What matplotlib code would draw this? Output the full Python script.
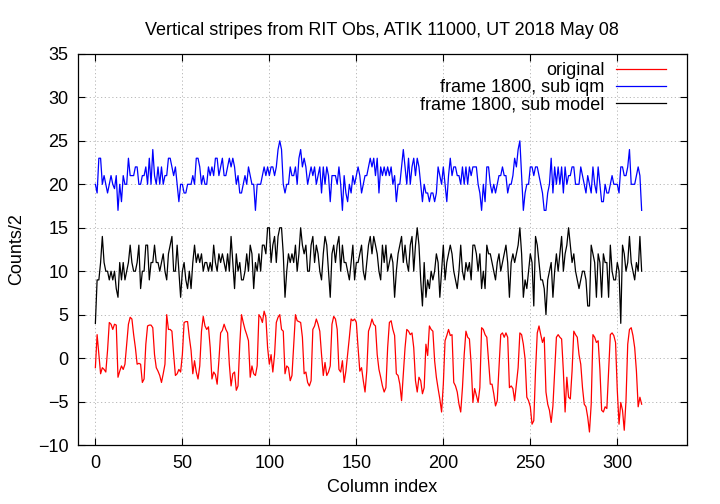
import numpy as np
import matplotlib
matplotlib.use("Agg")
import matplotlib.pyplot as plt

plt.rcParams["font.family"] = ["Liberation Sans", "DejaVu Sans"]
plt.rcParams["font.size"] = 13

title = "Vertical stripes from RIT Obs, ATIK 11000, UT 2018 May 08"
labels = ["original", "frame 1800, sub iqm", "frame 1800, sub model"]

# counts/2 per column
original = [
    -1.1, 2.7, 0.5, -1.8, -1.1, -1.3, -1.6, 0.9, 4.1, 3.9, 3.3, 3.9, 3.8, -2.2, -1.5, -0.9, -1.3, -0.7, 1.6, 3.9,
    4.7, 4.5, 2.7, 1.2, -0.7, -0.6, -0.7, -2.8, -2.4, 1.6, 3.7, 3.8, 3.8, 3.5, 0.4, -1.1, -1.5, -2, -2.8, -1.8,
    -0.7, 5, 3.3, 3.3, 3.1, 0.4, -2, -1.8, -1.3, -1.6, 0.4, 4.1, 4.2, 4.2, 2.4, 0.9, -1.8, -0.3, -1.6, -2.4,
    -0.9, 3.1,
    4.8, 3.7, 3.3, 3.6, 1.2, -2.4, -1.6, -1.9, -3, -0.3, 2.9, 3.2, 3.9, 3.3, 2.9, -0.7, -3.2, -1.8, -1.6, -3.7,
    -3.2, 1.6, 5, 4.1, 3.3, 2.7, 2, -2.2, -0.9, -1.8, -2, -0.9, 5, 4.7, 4.1, 5.4, 4.7, 1.2, -0.7, 0.4,
    -1.6, 0.4, 4.1, 4.7, 5, 3.3, 3.1, -1.8, -0.9, -1.1, -2.6, -2, 1.6, 5, 4.3, 4.2, 4.1, 2.4, -1.8, -1.6,
    -2.8, -3.2, -2.6,
    3.3, 3.7, 4.5, 3.9, 3.1, 0.4, -2, -0.5, -2, -1.6, -0.9, 3.9, 4.8, 4.5, 3.3, -1.3, -1.6, -0.3, -2.8, -1.5,
    0.4, 2.4, 4.5, 4.3, 4.5, 4.1, 1.2, -1.5, -1.1, -2.6, -3.9, -1.5, 3.1, 3.7, 4.5, 3.9, 3.7, 0.4, -1.3, -2.2,
    -3.2, -3.9, -3.4, 1.2, 4.1, 4.3, 3.3, 2.6, -1.8, -2, -3, -4.9, -1.8, 1.2, 3.3, 3.1, 2.7, 2.9, 1.2, -2.6,
    -3.9, -2.2, -2.6, -4.1,
    -3.4, 1.6, 0.3, 3.7, 3.3, 3.1, -0.3, -2.2, -3.5, -4.7, -6.2, -3, 2, 2.6, 3.3, 2.6, 2.7, -2.8, -3.2, -3.9,
    -5.3, -6.2, -3.4, 0.4, 3.1, 2.4, 2.2, -0.7, -5.1, -3.5, -4.3, -5.1, -3.4, 3.5, 3.3, 2.7, 2.4, -0.3, -3, -3,
    -4.1, -5.5, -4.9, -1.1, 2.7, 2.9, 2.4, 2.9, 2.4, -3.4, -3.2, -3.5, -4.9, -3, -1.1, 2.9, 2.7, 1.6, -0.1, -4.5,
    -4.9, -5.6, -7.6,
    -7.2, -1.5, 2.9, 3.7, 2.7, 1.8, 2.4, -3.9, -5.3, -6, -7.4, -5.5, -1.5, 2.4, 2.7, 2.4, 2.2, -1.5, -6.2, -2.2,
    -4.5, -4.7, -1.5, 3.1, 2.7, 2.4, 0.4, -0.7, -3.4, -5.3, -5.6, -6.8, -8.5, -5.3, 2.7, 2.4, 1.8, 2, -1.3, -6,
    -6.2, -5.6, -5.8, -1.5, 2.7, 2.9, 2.6, 1.8, -3.7, -7.6, -5.1, -6, -8.3, -4.9, 1.6, 3.3, 3.5, 2.6, 1.2, -1.5,
    -5.6, -4.5, -5.3,
]

sub_iqm = [
    20, 19, 23, 23, 20, 21, 20, 19, 20, 21, 20, 19.5, 21, 17, 20, 18, 21, 20, 20, 23,
    21, 21, 21, 22, 22, 20, 20, 21, 21, 22, 20, 23, 20, 24, 21, 20, 22, 20, 22, 20,
    21, 21, 23, 23, 22, 21, 22, 20, 18, 20, 20, 19, 19, 20, 20, 20, 21, 20, 23, 23,
    22, 20,
    21, 20, 20, 22, 21, 22, 21, 23, 23, 21, 22, 23, 21, 21, 22, 23, 22, 23, 22, 20,
    21, 19, 19, 20, 21, 20, 22, 21, 20, 20, 17, 20, 20, 20, 21, 22, 21, 22, 21, 22,
    22, 21, 22, 24, 25, 24, 20, 19, 20, 20, 22, 21, 21, 22, 20, 23, 24, 22, 23, 22,
    20, 21, 22,
    21, 22, 20, 21, 22, 19, 22, 20, 22, 21, 18, 21, 21, 21, 20, 22, 20, 17, 21, 19,
    18, 20, 19, 21, 20, 21, 22, 21, 19, 20, 21, 21, 22, 23, 22, 23, 21, 23, 19, 22,
    21, 22, 21, 22, 21, 22, 20, 21, 18, 20, 20, 22, 24, 22, 20, 23, 20, 22, 23, 21,
    23, 22, 20, 18,
    20, 19, 19, 18, 19, 19, 18, 19, 22, 21, 20, 22, 20, 18, 21, 23, 21, 22, 22, 21,
    21, 20, 22, 20, 22, 20, 22, 21, 22, 22, 22, 20, 19, 17, 20, 18, 22, 22, 20, 19,
    20, 19, 20, 21, 21, 22, 21, 21, 19, 20, 20, 21, 23, 22, 24, 25, 21, 17, 19, 20,
    20, 22, 22,
    21, 22, 22, 21, 20, 19, 17, 17, 19, 20, 23, 19, 22, 20, 22, 20, 22, 19, 22, 20,
    21, 21, 22, 22, 20, 20, 20, 22, 21, 20, 19, 21, 20, 19, 22, 20, 19, 22, 20, 18,
    18, 20, 19, 19, 20, 21, 20, 20, 20, 19, 22, 22, 21, 21, 22, 24, 20, 20, 20, 21,
    22, 21, 17,
]

sub_model = [
    4, 9, 9, 11, 14, 11, 10, 10, 9, 10, 9, 10, 8, 7, 11, 9, 11, 9, 10, 11,
    13, 11, 10, 10, 11, 13, 8, 10, 10, 13, 13, 9, 11, 11, 13, 11, 11, 10, 11, 12,
    10, 9, 12, 13, 14, 10, 10, 13, 10, 7, 10, 11, 9, 8, 10, 8, 11, 13, 11, 12,
    11, 12,
    10, 11, 11, 10, 11, 10, 13, 11, 10, 12, 11, 12, 11, 10, 12, 10, 14, 11, 8, 12,
    10, 11, 9, 9, 10, 12, 10, 13, 12, 8, 11, 10, 12, 10, 13, 13, 12, 15, 15, 11,
    13, 14, 11, 14, 15, 15, 12, 7, 10, 12, 11, 12, 11, 13, 10, 12, 15, 13, 12, 13,
    10, 10, 13,
    14, 11, 13, 12, 10, 9, 12, 14, 13, 10, 7, 12, 13, 11, 13, 14, 10, 13, 11, 11,
    10, 9, 11, 13, 9, 11, 11, 12, 13, 10, 9, 11, 13, 14, 12, 14, 13, 12, 10, 9,
    13, 11, 13, 10, 11, 12, 11, 7, 10, 12, 13, 14, 11, 13, 11, 10, 13, 14, 10, 13,
    15, 13, 9, 6,
    11, 7, 9, 8, 10, 9, 10, 12, 11, 7, 10, 13, 9, 11, 12, 13, 12, 10, 9, 8,
    10, 13, 10, 9, 11, 10, 11, 9, 13, 13, 12, 10, 12, 8, 10, 8, 13, 12, 12, 11,
    10, 9, 11, 12, 10, 11, 12, 13, 11, 7, 11, 12, 11, 12, 13, 15, 12, 7, 9, 8,
    10, 12, 11,
    6, 14, 13, 11, 9, 9, 8, 5, 9, 10, 11, 7, 10, 12, 10, 12, 14, 10, 12, 13,
    15, 13, 11, 12, 10, 9, 8, 9, 10, 10, 9, 6, 6, 13, 12, 11, 7, 12, 11, 7,
    12, 11, 11, 7, 13, 10, 9, 9, 11, 10, 4, 13, 12, 10, 11, 14, 11, 10, 9, 11,
    10, 14, 10,
]

fig = plt.figure(figsize=(7.2, 5.04), dpi=100)
ax = fig.add_axes([0.1083, 0.117, 0.8457, 0.776])

ax.plot(np.arange(len(original)), original, color="#ff0000", lw=0.9, label=labels[0])
ax.plot(np.arange(len(sub_iqm)), sub_iqm, color="#0000ff", lw=0.9, label=labels[1])
ax.plot(np.arange(len(sub_model)), sub_model, color="black", lw=0.9, label=labels[2])

ax.set_xlim(-10, 340)
ax.set_ylim(-10, 35)
ax.set_xticks(np.arange(0, 301, 50))
ax.set_yticks(np.arange(-10, 36, 5))
ax.grid(True, color="#b0b0b0", lw=0.6, ls=(0, (1.5, 3)))
ax.tick_params(direction="in", length=5, width=0.8, top=True, right=True, pad=7)
for s in ax.spines.values():
    s.set_linewidth(0.9)

ax.set_xlabel("Column index", labelpad=5)
ax.set_ylabel("Counts/2", labelpad=9)
fig.text(0.53, 0.94, title, ha="center", va="center")

ax.legend(loc="upper right", bbox_to_anchor=(0.925, 0.876), bbox_transform=fig.transFigure,
          frameon=False, markerfirst=False, borderpad=0, borderaxespad=0,
          handlelength=2.75, handletextpad=0.65, labelspacing=0.0)

fig.savefig("out.png", dpi=100)
